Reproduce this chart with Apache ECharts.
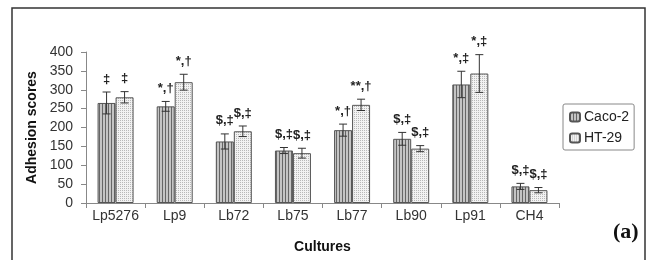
<!DOCTYPE html>
<html>
<head>
<meta charset="utf-8">
<script src="https://cdn.jsdelivr.net/npm/echarts@6/dist/echarts.min.js"></script>
<style>
  html, body { margin: 0; padding: 0; background: #fff; }
  #paint { width: 652px; height: 260px; }
</style>
</head>
<body>
<div id="paint"></div>
<script>
// cultures and adhesion scores
var cultures = ['Lp5276', 'Lp9', 'Lb72', 'Lb75', 'Lb77', 'Lb90', 'Lp91', 'CH4'];
var caco2 = [265, 256, 163, 139, 193, 170, 314, 44];
var caco2Err = [29, 13, 20, 8, 16, 17, 35, 8];
var caco2Marks = ['‡', '*,†', '$,‡', '$,‡', '*,†', '$,‡', '*,‡', '$,‡'];
var ht29 = [280, 320, 190, 132, 260, 144, 343, 34];
var ht29Err = [15, 21, 14, 13, 15, 8, 50, 7];
var ht29Marks = ['‡', '*,†', '$,‡', '$,‡', '**,†', '$,‡', '*,‡', '$,‡'];

function makePattern(kind) {
    var c = document.createElement('canvas');
    var ctx = c.getContext('2d');
    if (kind == 'stripe') {
        c.width = 3; c.height = 1;
        ctx.fillStyle = '#c4c4c4';
        ctx.fillRect(0, 0, 3, 1);
        ctx.fillStyle = '#666';
        ctx.fillRect(0, 0, 1, 1);
    } else {
        c.width = 2; c.height = 2;
        ctx.fillStyle = '#f2f2f2';
        ctx.fillRect(0, 0, 2, 2);
        ctx.fillStyle = '#b8b8b8';
        ctx.fillRect(0, 0, 1, 1);
    }
    return c;
}

var stripe = { image: makePattern('stripe'), repeat: 'repeat' };
var dots = { image: makePattern('dots'), repeat: 'repeat' };

// error bars and significance marks, shifted to each bar's centre
function errorSeries(vals, errs, marks, shift) {
    var data = [];
    for (let i in vals) data.push([+i, vals[i], errs[i]]);
    return {
        type: 'custom',
        silent: true,
        z: 5,
        data: data,
        encode: { x: 0, y: 1 },
        renderItem: function (params, api) {
            var i = api.value(0);
            var top = api.coord([i, api.value(1) + api.value(2)]);
            var bot = api.coord([i, api.value(1) - api.value(2)]);
            var x = top[0] + shift;
            var st = { stroke: '#333', lineWidth: 1 };
            return {
                type: 'group',
                children: [
                    { type: 'line', shape: { x1: x, y1: top[1], x2: x, y2: bot[1] }, style: st },
                    { type: 'line', shape: { x1: x - 4, y1: top[1], x2: x + 4, y2: top[1] }, style: st },
                    { type: 'line', shape: { x1: x - 4, y1: bot[1], x2: x + 4, y2: bot[1] }, style: st },
                    {
                        type: 'text',
                        style: {
                            x: x, y: top[1] - 13,
                            text: marks[i],
                            align: 'center', verticalAlign: 'middle',
                            fill: '#222',
                            font: 'bold 13px "Liberation Sans", Arial'
                        }
                    }
                ]
            };
        }
    };
}

var chart = echarts.init(document.getElementById('paint'));

option = {
    animation: false,
    grid: { left: 86, right: 93, top: 52, bottom: 57, containLabel: false, outerBoundsMode: 'none' },
    legend: {
        orient: 'vertical',
        left: 563,
        top: 104,
        data: ['Caco-2', 'HT-29'],
        itemWidth: 10,
        itemHeight: 9,
        itemGap: 5,
        padding: [5, 5, 4, 6],
        borderColor: '#888',
        borderWidth: 1,
        borderRadius: 2,
        textStyle: { fontFamily: '"Liberation Sans", Arial', fontSize: 14, lineHeight: 16, color: '#222', padding: [0, 0, 0, -1] }
    },
    xAxis: {
        type: 'category',
        data: cultures,
        name: 'Cultures',
        nameLocation: 'middle',
        nameGap: 37,
        nameTextStyle: { fontFamily: '"Liberation Sans", Arial', fontWeight: 'bold', fontSize: 14, color: '#111' },
        axisLine: { lineStyle: { color: '#888' } },
        axisTick: { show: true, length: 5, lineStyle: { color: '#888' } },
        axisLabel: { interval: 0, margin: 6, fontFamily: '"Liberation Sans", Arial', fontSize: 14, color: '#333' }
    },
    yAxis: {
        type: 'value',
        min: 0,
        max: 400,
        interval: 50,
        name: 'Adhesion scores',
        nameLocation: 'middle',
        nameRotate: 90,
        nameGap: 44,
        nameTextStyle: { fontFamily: '"Liberation Sans", Arial', fontWeight: 'bold', fontSize: 14, color: '#111' },
        axisLine: { show: true, lineStyle: { color: '#888' } },
        axisTick: { show: true, length: 5, lineStyle: { color: '#888' } },
        axisLabel: { margin: 13, fontFamily: '"Liberation Sans", Arial', fontSize: 14, color: '#333' },
        splitLine: { show: false }
    },
    graphic: [
        {
            type: 'rect',
            shape: { x: 12, y: 8, width: 633, height: 270 },
            style: { fill: 'none', stroke: '#333', lineWidth: 1.5 },
            silent: true
        },
        {
            type: 'text',
            left: 613,
            top: 221,
            style: { text: '(a)', font: 'bold 22px "Liberation Serif", "Times New Roman"', fill: '#111' }
        }
    ],
    series: [
        {
            name: 'Caco-2',
            type: 'bar',
            barWidth: 18,
            barGap: '0%',
            data: caco2,
            itemStyle: { color: stripe, borderColor: '#555', borderWidth: 1 }
        },
        {
            name: 'HT-29',
            type: 'bar',
            barWidth: 18,
            barGap: '0%',
            data: ht29,
            itemStyle: { color: dots, borderColor: '#555', borderWidth: 1 }
        },
        errorSeries(caco2, caco2Err, caco2Marks, -9),
        errorSeries(ht29, ht29Err, ht29Marks, 9)
    ]
};

chart.setOption(option);
</script>
</body>
</html>
